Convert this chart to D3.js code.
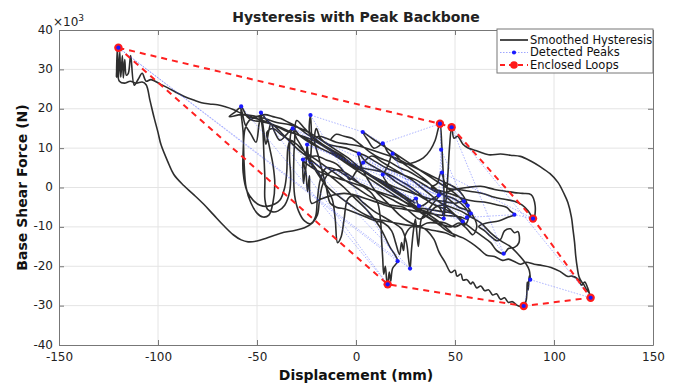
<!DOCTYPE html>
<html><head><meta charset="utf-8">
<script src="https://cdn.jsdelivr.net/npm/d3@7"></script>
<style>
body{margin:0;background:#fff;}
svg{display:block;font-family:"DejaVu Sans",Verdana,sans-serif;}
</style>
</head><body>
<svg id="chart" width="674" height="385"></svg>
<script>
// ---------- tick labels ----------
const xTicks = [-150, -100, -50, 0, 50, 100, 150];
const yTicks = [-40, -30, -20, -10, 0, 10, 20, 30, 40];

// ---------- smoothed hysteresis (displacement mm, force x10^3 N) ----------
const segUpperRoute = [[30,-4],[24,-2],[18,0],[12,2],[6,3.5],[0,5],[-6,7],[-12,9],[-18,11],[-24,12.5],[-30,13.5],[-36,14.8],[-42,16],[-48,17.2],[-54,18],[-58,18.8],[-62,19.8],[-66,20.5],[-70,21],[-74,21.2],[-78,21.5],[-82,22.2],[-87,23.2],[-91,24.2],[-95,25.3],[-99,26.3],[-103.5,27.4],[-106,27],[-108,29],[-110,27.5],[-112,26],[-113.8,33.5],[-115,29]];
const segSpikes = [[-116,28.5],[-116.8,32.5],[-117.5,27.8],[-118,33.5],[-118.8,28],[-119.3,34.5],[-120,27.5],[-120.5,35.5],[-121,28],[-120.8,30],[-119.5,27],[-117,26.5],[-114,27],[-111,26.5],[-108,26.8],[-106,26.1]];
const segLowerLoop = [[-104,22],[-102,17.8],[-100,14],[-98.5,10.9],[-95,6.5],[-92,3.3],[-87,0.5],[-82,-1.8],[-77,-4.2],[-72,-6.9],[-67,-9.6],[-62,-12],[-58,-13.3],[-54.5,-13.8],[-50,-13.6],[-45,-12.8],[-38,-11.6],[-31,-10.9],[-26,-10.2],[-22,-9],[-19.5,-7],[-18.5,-3.5],[-17,0.5],[-14,3.5],[-9,4.5],[-3,3],[3,0.5],[8,-1.5],[11,-4],[12.5,-9],[13,-14],[13.5,-18],[14,-22],[14.8,-20],[15.5,-23.5],[16,-24.6],[16.8,-21.5],[17.5,-23.8],[18.5,-20.5],[21,-18.7]];
const segReturnA = [[17,-15],[12,-10],[6,-6],[0,-3],[-6,0],[-12,2.5],[-18,5],[-24,7.5],[-30,10],[-36,13],[-41,15.5],[-45,17],[-48,19],[-47,14],[-46.5,8],[-46,2],[-46,-3],[-44.6,-5.6],[-42,-6.2],[-39.5,-6],[-36,-4.5],[-33.5,-1],[-33,3],[-33.5,7],[-33.5,11],[-32,15]];
const segClusterA = [[-28,13],[-22,11],[-16,9.5],[-10,8],[-4,6],[2,4.5],[8,3],[14,1.5],[20,0],[26,-1],[32,-2],[38,-3],[44,-3.5],[50,-4],[54,-3.5],[56.4,-4.6]];
const segReturnB = [[54,-2],[50,0],[44,1.5],[38,3],[32,4.5],[26,6],[20,7.5],[14,8.5],[8,9.5],[2,10.5],[-4,11],[-10,11.5],[-15,12.5],[-19,13],[-21.5,12],[-23.5,14],[-23,18.4],[-22.5,11],[-23.5,6],[-24.7,10.9],[-25.5,4],[-26.8,7.1],[-26.5,1],[-25.5,5],[-24.5,-1],[-23.5,3],[-22.5,-4]];
const segClusterB = [[-18,-3],[-12,-2],[-6,-1.5],[0,-2],[6,-3],[12,-4],[18,-5],[24,-5.5],[30,-6],[36,-6.5],[42,-7],[48,-7.2],[53,-7.5],[56,-8],[58,-6.6]];
const segBigArc = [[55,-4],[50,-1.5],[44,0.5],[38,2.5],[32,4.5],[26,6.5],[20,8.5],[14,10.5],[8,12.5],[3.4,14.1],[6,12],[9,10],[11.5,10.5],[13.5,11.2],[16,9],[20,7],[25,6],[30,6.5],[34,7.5],[37.5,9.5],[40,12],[42.4,16.2],[43.3,11],[43.8,6],[44.3,1],[44.5,-4],[44.3,-7.9],[45.5,-3],[46.5,4],[47.2,10],[48.3,15.3],[49.5,12.5],[51.3,13],[54,11],[56.4,10.1],[61.5,9.2],[67,8.3],[73,8.5],[78,8.2],[83,7.9],[88,6.8],[93,5.3],[98,3.5],[102,1.3],[105,-1.5],[107,-3.8],[108.8,-7.5],[109.6,-10.7],[110.4,-14],[111,-17.5],[111.8,-20.5],[112.6,-22.6],[114,-24],[115,-24.6],[116.5,-26],[117.7,-26.7],[118.5,-28]];
const segLowerReturn = [[117,-25.5],[115.5,-24],[114,-24.8],[112,-23.2],[109,-22.5],[107,-22.6],[103,-21.3],[98.5,-20.3],[94,-19.8],[90,-19.5],[86,-19],[83,-19.5],[80,-18.8],[77,-18.2],[74,-18.5],[70,-17.5],[66,-17.2],[62,-15.5],[58,-14],[54,-12.8],[50,-12],[46,-11],[42,-9.5],[36,-7.5],[30,-5.5],[24,-3.5],[18,-1.5],[12,0.5],[6,2.5],[0,4.5],[-6,6.5],[-12,8.5],[-18,10],[-24,12],[-30,13.5],[-36,14.5],[-42,16],[-48,16.8],[-52,17],[-55,18],[-58,20.6]];
const segDropU = [[-57,14],[-56.5,6],[-55.5,0],[-53,-4],[-50,-6.5],[-47,-7.5],[-44,-7],[-42,-4],[-41,1],[-42,6],[-44,11],[-45,14],[-42,15],[-38,13.5],[-35,12.5],[-30,11],[-26,9],[-22,6],[-18,3],[-15,0],[-12,-3],[-10.5,-8],[-9.3,-14],[-7.5,-12.5],[-6,-8],[-4.2,-3],[-1,-2],[4,-4],[9,-6],[14,-7.5],[19,-9],[23,-10.5],[25.5,-14],[26.5,-18],[27.3,-20.6]];
const segMidSpikes = [[28,-16],[29,-11],[30,-8],[30.8,-12],[31.5,-15],[32.2,-11],[33,-8],[36,-6],[39,-4],[41.8,-2],[39,0],[35,2],[31,3.5],[27,5],[23,6.5],[20.5,8],[18.5,8.6],[16.5,6],[14.5,4],[13.5,3.3],[16,1],[20,-1],[24,-2.5],[28,-3.5],[30.3,-2.8],[31,-4],[31.8,-4.7],[34,-4.5]];
const segRightLoop = [[38,-3],[44,-1.5],[50,-0.5],[56,0],[63,0.3],[70,-0.5],[76,-1],[80,-1.3],[84,-1.5],[88.4,-1.8],[90.5,-4.7],[89.7,-7.9],[87,-6],[84,-4.5],[80,-3.5],[75,-3],[70,-2.5],[64,-1.5]];
const segRightWiggle = [[58,-1],[52,-0.5],[46,0],[43,3.8],[41,1],[38,0],[44,-1],[50,-2],[55,-3],[60,-3.5],[66,-3.8],[72,-4.5],[76,-5],[78,-6],[80,-6.9],[77,-7.5],[72,-8.5],[66,-9],[62,-9.9],[65,-11],[68,-12.4],[71,-13.5],[73,-13.2],[75,-11],[78,-10.5],[80,-11.5],[81.8,-11.2],[82.3,-14],[80,-15.2],[77,-15.5],[74.6,-16.8],[71,-16],[68,-14],[64,-12.5],[60,-11],[56,-9.5],[53.9,-8.6]];
const segSawtooth = [[50,-7],[45,-5.5],[40,-4.5],[35,-3],[30,-1.5],[25,0],[20,1.5],[15,3.5],[10,5],[5,6.5],[1.4,8.6],[3,5],[6,2],[10,-1],[14,-3],[18,-5],[22,-7],[26,-8.5],[30,-9.5],[33,-10],[36,-11],[39.4,-13.2],[42,-16.5],[45,-19],[48,-21.6],[50,-21],[51,-22.5],[53,-22],[54,-23.5],[56,-23.4],[58,-24.5],[59,-24],[61,-25.5],[63,-25],[65,-26.2],[67,-26],[69,-27.3],[71,-27],[73,-28.4],[75,-28],[77,-29.2],[79,-29],[81,-29.8],[83,-30.2],[84.7,-30.1],[86,-28.5],[86.5,-24],[87,-26],[87.5,-22.5],[88,-23.4],[87.5,-21],[86,-19.5]];
const segFinal = [[82,-17],[78,-15],[73,-13.5],[68,-11.5],[63,-9],[58,-7.5],[53,-6],[48,-5],[43,-4],[38,-2],[33,0],[28,2],[23,3.5],[18,5],[13,6.5],[8,8],[3.6,6.3],[0,4],[-3,2],[-6,4],[-10,6],[-15,7],[-20,8],[-26.8,7.1],[-22,5],[-16,3.5],[-10,2.5],[-4,1.5],[2,0.5],[8,-0.5],[14,-1.5],[20,-2.5],[26,-4],[32,-5.5],[38,-6.5],[44.3,-7.9],[42,-5],[38,-4],[33,-2],[28,0],[23,1.5],[18,3],[13,4],[8,4.5],[3,5],[-2,6],[-7,8],[-12,9.5],[-17,11],[-22,13],[-26,15],[-30,17],[-31,12],[-31.5,5],[-31,-2],[-29,-6],[-26,-8.5],[-23,-9.2],[-20.5,-7.5],[-19.5,-3],[-18,2],[-15,5],[-10,4.5],[-5,3],[0,1.5],[6,0],[12,-1.5],[18,-3],[24,-4.5],[30,-5],[36,-5.5],[42,-6],[48,-6.5],[53.9,-8.6]];
const segTopBand = [[50,-10],[45,-9],[40,-8.5],[35,-7],[30,-5],[25,-3],[20,-1],[14,1],[8,3],[2,5],[-4,7.5],[-10,9.5],[-16,11.5],[-22,13.5],[-28,15],[-34,16],[-40,16.5],[-46,17.5],[-52,18.2],[-58,18.5],[-64,18],[-61,19.2],[-58.5,20.2],[-56,16],[-53,13.5],[-50.5,11.5],[-49,16],[-48,18.6],[-46.5,14],[-45.5,11],[-44,14.5],[-43,16.2],[-41,14],[-38.4,12],[-35,13.5],[-32.5,14.8],[-30,12.5],[-27,10],[-24,7],[-20,4],[-16,1],[-12,-1],[-8,-2.5],[-4,-4],[0,-5.5],[5,-7],[10,-8],[15,-8.5],[20,-9],[25,-9.5],[30,-9.8],[35,-10.5],[40,-11],[45,-11.5],[50,-12.5]];
const segLeftU = [[45,-10],[40,-8],[34,-6],[28,-4],[22,-2],[16,0],[10,2],[4,4],[-2,6],[-8,8],[-14,10],[-20,12],[-26,14],[-30,15.5],[-34,16.5],[-38,17.5],[-42,18],[-46,18.5],[-50,18],[-54,17],[-56,15],[-57,9],[-57,3.8],[-55,-1],[-52,-3.2],[-48.5,-4.5],[-45,-4.8],[-41,-4.2],[-38.4,-3.2],[-36,0],[-35,3.8],[-34.3,10.4],[-33,12],[-30,11],[-27,9.5]];
const segDense = [[-20,7],[-13,4.5],[-6,2],[0,0],[6,-2],[12,-3.5],[18,-4.5],[24,-5],[28,-6.5],[32,-8],[36,-7],[40,-5],[44,-4.5],[48,-6],[52,-8],[55,-9.5],[57,-7],[55,-5],[50,-3],[45,-2],[40,-1],[35,0.5],[30,2],[25,3],[20,4],[15,5],[10,6.5],[5,8],[0,9],[-5,10],[-10,10.5],[-14,11],[-18,12.5],[-20,15],[-21,12],[-19,8],[-17,4],[-15,0],[-13,-4],[-10,-5],[-5,-5.5],[0,-6.5],[5,-7.5],[10,-8.5],[14,-9],[18,-11],[20,-14],[22,-17],[23,-14],[24,-16],[25,-12],[28,-10],[32,-10],[36,-9],[40,-9],[44,-9.5],[48,-10],[52,-9],[56,-10.5],[59,-12],[61,-10],[60,-8],[57,-6],[52,-5],[47,-3],[42,-1],[37,1],[32,2.5],[27,4],[22,5],[17,6.5],[12,7.5],[7,9],[2,11],[-2,12.5],[-6,13],[-10,13.5],[-13,12]];

const hysteresis = [].concat(segUpperRoute, segSpikes, segLowerLoop, segReturnA, segClusterA, segReturnB,
  segClusterB, segBigArc, segLowerReturn, segDropU, segMidSpikes, segRightLoop, segRightWiggle, segSawtooth,
  segFinal, segTopBand, segLeftU, segDense);

// ---------- detected peaks ----------
const peakDisp  = [-58, 16, -48, 27.3, -120, 21, -23, 3.4, 13.5, 42.4, 44.3, -32, 56.4, -24.7, 58, 1.4, 53.9, -26.8, 30.3, 18.5, 31.8, 13.5, 41.8, 43, 54.5, 3.6, 56, 80, 89.4, 43.4, 74.6, 48.3, 118.5, 88, 84.7];
const peakForce = [20.6, -24.6, 19, -20.6, 35.5, -18.7, 18.4, 14.1, 11.2, 16.2, -7.9, 15, -4.6, 10.9, -6.6, 8.6, -8.6, 7.1, -2.8, 8.6, -4.7, 3.3, -2, 9.6, -3.5, 6.3, -7.6, -6.9, -7.9, 3.8, -16.8, 15.3, -28, -23.4, -30.1];

// ---------- enclosed loop (backbone hull) ----------
const loopDisp  = [-120, 42.4, 48.3, 89.4, 118.5, 84.7, 16, -120];
const loopForce = [35.5, 16.2, 15.3, -7.9, -28, -30.1, -24.6, 35.5];

// ---------- drawing ----------
const svg = d3.select("#chart");
const L = 59, R = 653, T = 30, B = 345;
const x = d3.scaleLinear().domain([-150, 150]).range([L, R]);
const y = d3.scaleLinear().domain([-40, 40]).range([B, T]);

svg.append("rect").attr("x", 0).attr("y", 0).attr("width", 674).attr("height", 385).attr("fill", "#fff");

// grid
const grid = svg.append("g");
grid.selectAll("line.gx").data(xTicks.slice(1, -1)).join("line")
  .attr("x1", d => x(d)).attr("x2", d => x(d)).attr("y1", T).attr("y2", B)
  .attr("stroke", "#e4e4e4").attr("stroke-width", 1);
grid.selectAll("line.gy").data(yTicks.slice(1, -1)).join("line")
  .attr("y1", d => y(d)).attr("y2", d => y(d)).attr("x1", L).attr("x2", R)
  .attr("stroke", "#e4e4e4").attr("stroke-width", 1);

svg.append("clipPath").attr("id", "clip").append("rect")
  .attr("x", L).attr("y", T).attr("width", R - L).attr("height", B - T);
const plot = svg.append("g").attr("clip-path", "url(#clip)");

// hysteresis
const line = d3.line().x(d => x(d[0])).y(d => y(d[1])).curve(d3.curveCatmullRom.alpha(0.5));
plot.append("path").datum(hysteresis).attr("d", line)
  .attr("fill", "none").attr("stroke", "#111").attr("stroke-width", 1.6)
  .attr("stroke-linejoin", "round").attr("stroke-opacity", 0.88);

// peaks
const peaks = peakDisp.map((d, i) => [d, peakForce[i]]);
const straight = d3.line().x(d => x(d[0])).y(d => y(d[1]));
plot.append("path").datum(peaks).attr("d", straight)
  .attr("fill", "none").attr("stroke", "#3344ff").attr("stroke-opacity", 0.5)
  .attr("stroke-width", 0.8).attr("stroke-dasharray", "1.5,1.5");

// loops
const loop = loopDisp.map((d, i) => [d, loopForce[i]]);
plot.append("path").datum(loop).attr("d", straight)
  .attr("fill", "none").attr("stroke", "#ff2020").attr("stroke-width", 2)
  .attr("stroke-dasharray", "6,5");
plot.selectAll("circle.lp").data(loop.slice(0, -1)).join("circle")
  .attr("cx", d => x(d[0])).attr("cy", d => y(d[1])).attr("r", 4.2).attr("fill", "#ff1a1a");
plot.selectAll("circle.pk").data(peaks).join("circle")
  .attr("cx", d => x(d[0])).attr("cy", d => y(d[1])).attr("r", 2.1).attr("fill", "#1a1aff");

// axes
const axFont = "12px";
const gx = svg.append("g").attr("transform", `translate(0,${B})`)
  .call(d3.axisBottom(x).tickValues(xTicks).tickSize(-5).tickSizeOuter(0).tickPadding(7));
const gxt = svg.append("g").attr("transform", `translate(0,${T})`)
  .call(d3.axisTop(x).tickValues(xTicks).tickSize(-5).tickSizeOuter(0).tickFormat(""));
const gy = svg.append("g").attr("transform", `translate(${L},0)`)
  .call(d3.axisLeft(y).tickValues(yTicks).tickSize(-5).tickSizeOuter(0).tickPadding(6));
const gyr = svg.append("g").attr("transform", `translate(${R},0)`)
  .call(d3.axisRight(y).tickValues(yTicks).tickSize(-5).tickSizeOuter(0).tickFormat(""));
[gx, gxt, gy, gyr].forEach(g => {
  g.select(".domain").attr("stroke", "#777").attr("stroke-width", 1);
  g.selectAll(".tick line").attr("stroke", "#777");
  g.selectAll(".tick text").attr("fill", "#222").style("font-size", axFont)
    .style("font-family", '"DejaVu Sans",Verdana,sans-serif');
});
gx.selectAll(".tick text").text(d => d < 0 ? "-" + Math.abs(d) : d);
gy.selectAll(".tick text").text(d => d < 0 ? "-" + Math.abs(d) : d).attr("dy", "0.25em");

// exponent label
const ex = svg.append("text").attr("x", 53).attr("y", 26).attr("fill", "#222").style("font-size", "12px");
ex.append("tspan").text("\u00d710");
ex.append("tspan").attr("dy", -5).style("font-size", "9px").text("3");

// titles
svg.append("text").attr("x", (L + R) / 2).attr("y", 22).attr("text-anchor", "middle")
  .attr("fill", "#222").style("font-size", "14px").style("font-weight", "600").text("Hysteresis with Peak Backbone");
svg.append("text").attr("x", (L + R) / 2).attr("y", 380).attr("text-anchor", "middle")
  .attr("fill", "#111").style("font-size", "14px").style("font-weight", "600").text("Displacement (mm)");
svg.append("text").attr("transform", `translate(27,${(T + B) / 2}) rotate(-90)`).attr("text-anchor", "middle")
  .attr("fill", "#111").style("font-size", "14px").style("font-weight", "600").text("Base Shear Force (N)");

// legend
const lg = svg.append("g");
lg.append("rect").attr("x", 497).attr("y", 29).attr("width", 156).attr("height", 44)
  .attr("fill", "#fff").attr("stroke", "#777").attr("stroke-width", 1);
const items = [
  {label: "Smoothed Hysteresis", y: 40},
  {label: "Detected Peaks", y: 52.5},
  {label: "Enclosed Loops", y: 65}
];
lg.append("line").attr("x1", 500).attr("x2", 528).attr("y1", 40).attr("y2", 40).attr("stroke", "#111").attr("stroke-width", 1.5);
lg.append("line").attr("x1", 500).attr("x2", 528).attr("y1", 52.5).attr("y2", 52.5).attr("stroke", "#3344ff").attr("stroke-opacity", 0.6).attr("stroke-width", 0.8).attr("stroke-dasharray", "1.5,1.5");
lg.append("circle").attr("cx", 514).attr("cy", 52.5).attr("r", 2.1).attr("fill", "#1a1aff");
lg.append("line").attr("x1", 500).attr("x2", 528).attr("y1", 65).attr("y2", 65).attr("stroke", "#ff2020").attr("stroke-width", 2).attr("stroke-dasharray", "5,4");
lg.append("circle").attr("cx", 514).attr("cy", 65).attr("r", 3.8).attr("fill", "#ff1a1a");
lg.selectAll("text").data(items).join("text")
  .attr("x", 530).attr("y", d => d.y + 3.5).attr("fill", "#111").style("font-size", "11.5px").text(d => d.label);
</script>
</body></html>
